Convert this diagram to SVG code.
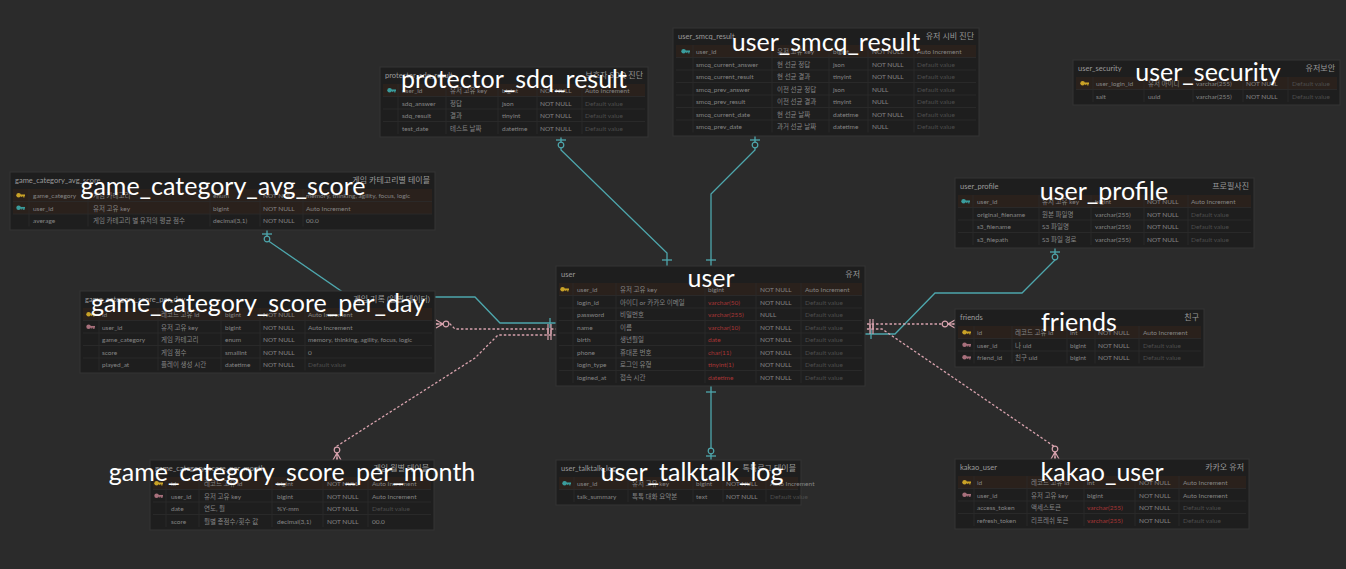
<svg xmlns="http://www.w3.org/2000/svg" xmlns:xlink="http://www.w3.org/1999/xlink" width="1346" height="569" viewBox="0 0 1346 569">
<style>
.bg{fill:#2b2b2b}
.tb{fill:#1e1e1e;stroke:#353535;stroke-width:1}
.pk{fill:#2a211c}
.ln{stroke:#2c2c2c;stroke-width:0.8}
text{font-family:Lato,"Noto Sans CJK KR",sans-serif}
.ttl{font-size:7.5px;fill:#9a9a9a}
.cm{font-size:8px;fill:#9a9a9a;text-anchor:end}
.c{font-size:6.5px;fill:#858585}
.r{fill:#a83535}
.dv{fill:#4d4d4d}
.big{font-size:25px;fill:#ffffff;text-anchor:middle}
.teal{fill:none;stroke:#4ea7ad;stroke-width:1.3}
.pink{fill:none;stroke:#d8a3ae;stroke-width:1.3;stroke-dasharray:2.5 2}
.kY{fill:#c9a227}.kT{fill:#3a9c9c}.kP{fill:#a8707c}
</style>
<defs>
<g id="key"><circle cx="2.6" cy="0" r="2.3"/><rect x="3.5" y="-0.8" width="5.5" height="1.6"/><rect x="7.2" y="0" width="1.3" height="2.2"/><rect x="5.2" y="0" width="1.2" height="1.8"/></g>
<marker id="oneT" markerUnits="userSpaceOnUse" orient="auto" overflow="visible" markerWidth="1" markerHeight="1"><path d="M-6,-5V5" stroke="#4ea7ad" stroke-width="1.3"/></marker>
<marker id="zoT" markerUnits="userSpaceOnUse" orient="auto-start-reverse" overflow="visible" markerWidth="1" markerHeight="1"><path d="M-4,-5V5" stroke="#4ea7ad" stroke-width="1.3"/><circle cx="-9" cy="0" r="2.8" fill="#2b2b2b" stroke="#4ea7ad" stroke-width="1.2"/></marker>
<marker id="twoP" markerUnits="userSpaceOnUse" orient="auto" overflow="visible" markerWidth="1" markerHeight="1"><path d="M-5,-5V5M-8,-5V5" stroke="#d8a3ae" stroke-width="1.2"/></marker>
<marker id="manyP" markerUnits="userSpaceOnUse" orient="auto-start-reverse" overflow="visible" markerWidth="1" markerHeight="1"><path d="M-7,0L0,-4M-7,0L0,4M-7,0H0" stroke="#d8a3ae" stroke-width="1.2" fill="none"/><circle cx="-10" cy="0" r="2.8" fill="#2b2b2b" stroke="#d8a3ae" stroke-width="1.2"/></marker>
</defs>
<rect class="bg" x="0" y="0" width="1346" height="569"/>

<g id="connectors">
<path class="teal" d="M561,136 L561,150 L667,253 L667,266" marker-start="url(#zoT)" marker-end="url(#oneT)"/>
<path class="teal" d="M755,136 L755,150 L711,194 L711,266" marker-start="url(#zoT)" marker-end="url(#oneT)"/>
<path class="teal" d="M267,230 L267,240 L350,297 L475,297 L500,323 L556,323" marker-start="url(#zoT)" marker-end="url(#oneT)"/>
<path class="pink" d="M436,324 L450,324 L455,329 L556,329" marker-start="url(#manyP)" marker-end="url(#twoP)"/>
<path class="pink" d="M337,460 L337,446 L475,358 L498,335 L556,335" marker-start="url(#manyP)" marker-end="url(#twoP)"/>
<path class="teal" d="M1055,248 L1055,260 L1022,293 L935,293 L895,334 L865,334" marker-start="url(#zoT)" marker-end="url(#oneT)"/>
<path class="pink" d="M955,324 L865,324" marker-start="url(#manyP)" marker-end="url(#twoP)"/>
<path class="pink" d="M1055,459 L1055,447 L882,329 L865,329" marker-start="url(#manyP)" marker-end="url(#twoP)"/>
<path class="teal" d="M711,460 L711,386" marker-start="url(#zoT)" marker-end="url(#oneT)"/>
</g>

<!-- protector_sdq_result -->
<g id="protector_sdq_result" transform="translate(380,67)">
<rect class="tb" width="268" height="70"/>
<text class="ttl" x="5" y="11">protector_sdq_result</text><text class="cm" x="263" y="11">보호자 SDQ 진단</text>
<rect class="pk" x="3" y="17" width="262" height="12.5"/>
<path class="ln" d="M3,29.5H265M3,42H265M3,54.5H265M18,17V67M66,17V67M118,17V67M157,17V67M202,17V67"/>
<use href="#key" x="7" y="23.25" class="kT"/>
<text class="c" y="26"><tspan x="22">user_id</tspan><tspan x="70">유저 고유 key</tspan><tspan x="122">bigint</tspan><tspan x="160">NOT NULL</tspan><tspan x="205">Auto Increment</tspan></text>
<text class="c" y="38.5"><tspan x="22">sdq_answer</tspan><tspan x="70">정답</tspan><tspan x="122">json</tspan><tspan x="160">NOT NULL</tspan><tspan x="205" class="dv">Default value</tspan></text>
<text class="c" y="51"><tspan x="22">sdq_result</tspan><tspan x="70">결과</tspan><tspan x="122">tinyint</tspan><tspan x="160">NOT NULL</tspan><tspan x="205" class="dv">Default value</tspan></text>
<text class="c" y="63.5"><tspan x="22">test_date</tspan><tspan x="70">테스트 날짜</tspan><tspan x="122">datetime</tspan><tspan x="160">NOT NULL</tspan><tspan x="205" class="dv">Default value</tspan></text>
<text class="big" x="134" y="21">protector_sdq_result</text>
</g>

<!-- user_smcq_result -->
<g id="user_smcq_result" transform="translate(673,28)">
<rect class="tb" width="306" height="108"/>
<text class="ttl" x="5" y="11">user_smcq_result</text><text class="cm" x="301" y="11">유저 시비 진단</text>
<rect class="pk" x="3" y="17" width="300" height="12.5"/>
<path class="ln" d="M3,29.5H303M3,42H303M3,54.5H303M3,67H303M3,79.5H303M3,92H303M20,17V104.5M99,17V104.5M156,17V104.5M195,17V104.5M241,17V104.5"/>
<use href="#key" x="8" y="23.25" class="kT"/>
<text class="c" y="26"><tspan x="23">user_id</tspan><tspan x="104">유저 고유 key</tspan><tspan x="160">bigint</tspan><tspan x="199">NOT NULL</tspan><tspan x="244">Auto Increment</tspan></text>
<text class="c" y="38.5"><tspan x="23">smcq_current_answer</tspan><tspan x="104">현 선균 정답</tspan><tspan x="160">json</tspan><tspan x="199">NOT NULL</tspan><tspan x="244" class="dv">Default value</tspan></text>
<text class="c" y="51"><tspan x="23">smcq_current_result</tspan><tspan x="104">현 선균 결과</tspan><tspan x="160">tinyint</tspan><tspan x="199">NOT NULL</tspan><tspan x="244" class="dv">Default value</tspan></text>
<text class="c" y="63.5"><tspan x="23">smcq_prev_answer</tspan><tspan x="104">이전 선균 정답</tspan><tspan x="160">json</tspan><tspan x="199">NULL</tspan><tspan x="244" class="dv">Default value</tspan></text>
<text class="c" y="76"><tspan x="23">smcq_prev_result</tspan><tspan x="104">이전 선균 결과</tspan><tspan x="160">tinyint</tspan><tspan x="199">NULL</tspan><tspan x="244" class="dv">Default value</tspan></text>
<text class="c" y="88.5"><tspan x="23">smcq_current_date</tspan><tspan x="104">현 선균 날짜</tspan><tspan x="160">datetime</tspan><tspan x="199">NOT NULL</tspan><tspan x="244" class="dv">Default value</tspan></text>
<text class="c" y="101"><tspan x="23">smcq_prev_date</tspan><tspan x="104">과거 선균 날짜</tspan><tspan x="160">datetime</tspan><tspan x="199">NULL</tspan><tspan x="244" class="dv">Default value</tspan></text>
<text class="big" x="153" y="23">user_smcq_result</text>
</g>

<!-- user_security -->
<g id="user_security" transform="translate(1073,60)">
<rect class="tb" width="267" height="45"/>
<text class="ttl" x="5" y="11">user_security</text><text class="cm" x="262" y="11">유저보안</text>
<rect class="pk" x="3" y="17" width="261" height="12.5"/>
<path class="ln" d="M3,29.5H264M20,17V42M71,17V42M120,17V42M170,17V42M215,17V42"/>
<use href="#key" x="7" y="23.25" class="kY"/>
<text class="c" y="26"><tspan x="23">user_login_id</tspan><tspan x="75">유저 아이디</tspan><tspan x="123">varchar(255)</tspan><tspan x="173">NOT NULL</tspan><tspan x="219" class="dv">Default value</tspan></text>
<text class="c" y="38.5"><tspan x="23">salt</tspan><tspan x="75">uuid</tspan><tspan x="123">varchar(255)</tspan><tspan x="173">NOT NULL</tspan><tspan x="219" class="dv">Default value</tspan></text>
<text class="big" x="135" y="21">user_security</text>
</g>

<!-- game_category_avg_score -->
<g id="game_category_avg_score" transform="translate(10,172)">
<rect class="tb" width="425" height="58"/>
<text class="ttl" x="5" y="11">game_category_avg_score</text><text class="cm" x="420" y="11">게임 카테고리별 테이블</text>
<rect class="pk" x="3" y="17" width="419" height="25"/>
<path class="ln" d="M3,29.5H422M3,42H422M19,17V54.5M78,17V54.5M200,17V54.5M250,17V54.5M293,17V54.5"/>
<use href="#key" x="6" y="23.25" class="kY"/>
<use href="#key" x="6" y="35.75" class="kT"/>
<text class="c" y="26"><tspan x="23">game_category</tspan><tspan x="83">게임 카테고리</tspan><tspan x="203">enum</tspan><tspan x="253">NOT NULL</tspan><tspan x="296">memory, thinking, agility, focus, logic</tspan></text>
<text class="c" y="38.5"><tspan x="23">user_id</tspan><tspan x="83">유저 고유 key</tspan><tspan x="203">bigint</tspan><tspan x="253">NOT NULL</tspan><tspan x="296">Auto Increment</tspan></text>
<text class="c" y="51"><tspan x="23">average</tspan><tspan x="83">게임 카테고리 별 유저의 평균 점수</tspan><tspan x="203">decimal(3,1)</tspan><tspan x="253">NOT NULL</tspan><tspan x="296">00.0</tspan></text>
<text class="big" x="213" y="23">game_category_avg_score</text>
</g>

<!-- user_profile -->
<g id="user_profile" transform="translate(955,178)">
<rect class="tb" width="299" height="70"/>
<text class="ttl" x="5" y="11">user_profile</text><text class="cm" x="294" y="11">프로필사진</text>
<rect class="pk" x="3" y="17" width="293" height="12.5"/>
<path class="ln" d="M3,29.5H296M3,42H296M3,54.5H296M18,17V67M84,17V67M136,17V67M189,17V67M233,17V67"/>
<use href="#key" x="6" y="23.25" class="kT"/>
<text class="c" y="26"><tspan x="22">user_id</tspan><tspan x="87">유저 고유 key</tspan><tspan x="140">bigint</tspan><tspan x="192">NOT NULL</tspan><tspan x="236">Auto Increment</tspan></text>
<text class="c" y="38.5"><tspan x="22">original_filename</tspan><tspan x="87">원본 파일명</tspan><tspan x="140">varchar(255)</tspan><tspan x="192">NOT NULL</tspan><tspan x="236" class="dv">Default value</tspan></text>
<text class="c" y="51"><tspan x="22">s3_filename</tspan><tspan x="87">S3 파일명</tspan><tspan x="140">varchar(255)</tspan><tspan x="192">NOT NULL</tspan><tspan x="236" class="dv">Default value</tspan></text>
<text class="c" y="63.5"><tspan x="22">s3_filepath</tspan><tspan x="87">S3 파일 경로</tspan><tspan x="140">varchar(255)</tspan><tspan x="192">NOT NULL</tspan><tspan x="236" class="dv">Default value</tspan></text>
<text class="big" x="149" y="22">user_profile</text>
</g>

<!-- game_category_score_per_day -->
<g id="game_category_score_per_day" transform="translate(80,291)">
<rect class="tb" width="355" height="82"/>
<text class="ttl" x="5" y="11">game_category_score_per_day</text><text class="cm" x="350" y="11">게임 기록 (일별 데이터)</text>
<rect class="pk" x="3" y="17" width="349" height="12.5"/>
<path class="ln" d="M3,29.5H352M3,42H352M3,54.5H352M3,67H352M19,17V79.5M78,17V79.5M141,17V79.5M180,17V79.5M225,17V79.5"/>
<use href="#key" x="6" y="23.25" class="kY"/>
<use href="#key" x="6" y="35.75" class="kP"/>
<text class="c" y="26"><tspan x="22">id</tspan><tspan x="81">레코드 고유 id</tspan><tspan x="145">bigint</tspan><tspan x="183">NOT NULL</tspan><tspan x="228">Auto Increment</tspan></text>
<text class="c" y="38.5"><tspan x="22">user_id</tspan><tspan x="81">유저 고유 key</tspan><tspan x="145">bigint</tspan><tspan x="183">NOT NULL</tspan><tspan x="228">Auto Increment</tspan></text>
<text class="c" y="51"><tspan x="22">game_category</tspan><tspan x="81">게임 카테고리</tspan><tspan x="145">enum</tspan><tspan x="183">NOT NULL</tspan><tspan x="228">memory, thinking, agility, focus, logic</tspan></text>
<text class="c" y="63.5"><tspan x="22">score</tspan><tspan x="81">게임 점수</tspan><tspan x="145">smallint</tspan><tspan x="183">NOT NULL</tspan><tspan x="228">0</tspan></text>
<text class="c" y="76"><tspan x="22">played_at</tspan><tspan x="81">플레이 생성 시간</tspan><tspan x="145">datetime</tspan><tspan x="183">NOT NULL</tspan><tspan x="228" class="dv">Default value</tspan></text>
<text class="big" x="178" y="21">game_category_score_per_day</text>
</g>

<!-- user -->
<g id="user" transform="translate(556,266)">
<rect class="tb" width="309" height="120"/>
<text class="ttl" x="5" y="11">user</text><text class="cm" x="304" y="11">유저</text>
<rect class="pk" x="3" y="17" width="303" height="12.5"/>
<path class="ln" d="M3,29.5H306M3,42H306M3,54.5H306M3,67H306M3,79.5H306M3,92H306M3,104.5H306M17,17V117M60,17V117M149,17V117M200,17V117M245,17V117"/>
<use href="#key" x="4" y="23.25" class="kY"/>
<text class="c" y="26"><tspan x="21">user_id</tspan><tspan x="64">유저 고유 key</tspan><tspan x="152">bigint</tspan><tspan x="204">NOT NULL</tspan><tspan x="249">Auto Increment</tspan></text>
<text class="c" y="38.5"><tspan x="21">login_id</tspan><tspan x="64">아이디 or 카카오 이메일</tspan><tspan x="152" class="r">varchar(50)</tspan><tspan x="204">NOT NULL</tspan><tspan x="249" class="dv">Default value</tspan></text>
<text class="c" y="51"><tspan x="21">password</tspan><tspan x="64">비밀번호</tspan><tspan x="152" class="r">varchar(255)</tspan><tspan x="204">NULL</tspan><tspan x="249" class="dv">Default value</tspan></text>
<text class="c" y="63.5"><tspan x="21">name</tspan><tspan x="64">이름</tspan><tspan x="152" class="r">varchar(10)</tspan><tspan x="204">NOT NULL</tspan><tspan x="249" class="dv">Default value</tspan></text>
<text class="c" y="76"><tspan x="21">birth</tspan><tspan x="64">생년월일</tspan><tspan x="152" class="r">date</tspan><tspan x="204">NOT NULL</tspan><tspan x="249" class="dv">Default value</tspan></text>
<text class="c" y="88.5"><tspan x="21">phone</tspan><tspan x="64">휴대폰 번호</tspan><tspan x="152" class="r">char(11)</tspan><tspan x="204">NOT NULL</tspan><tspan x="249" class="dv">Default value</tspan></text>
<text class="c" y="101"><tspan x="21">login_type</tspan><tspan x="64">로그인 유형</tspan><tspan x="152" class="r">tinyint(1)</tspan><tspan x="204">NOT NULL</tspan><tspan x="249" class="dv">Default value</tspan></text>
<text class="c" y="113.5"><tspan x="21">logined_at</tspan><tspan x="64">접속 시간</tspan><tspan x="152" class="r">datetime</tspan><tspan x="204">NOT NULL</tspan><tspan x="249" class="dv">Default value</tspan></text>
<text class="big" x="155" y="21">user</text>
</g>

<!-- friends -->
<g id="friends" transform="translate(955,309)">
<rect class="tb" width="249" height="58"/>
<text class="ttl" x="5" y="11">friends</text><text class="cm" x="244" y="11">친구</text>
<rect class="pk" x="3" y="17" width="243" height="12.5"/>
<path class="ln" d="M3,29.5H246M3,42H246M19,17V54.5M57,17V54.5M112,17V54.5M140,17V54.5M184,17V54.5"/>
<use href="#key" x="7" y="23.25" class="kY"/>
<use href="#key" x="7" y="35.75" class="kP"/>
<use href="#key" x="7" y="48.25" class="kP"/>
<text class="c" y="26"><tspan x="22">id</tspan><tspan x="60">레코드 고유 id</tspan><tspan x="115">int</tspan><tspan x="143">NOT NULL</tspan><tspan x="188">Auto Increment</tspan></text>
<text class="c" y="38.5"><tspan x="22">user_id</tspan><tspan x="60">나 uid</tspan><tspan x="115">bigint</tspan><tspan x="143">NOT NULL</tspan><tspan x="188" class="dv">Default value</tspan></text>
<text class="c" y="51"><tspan x="22">friend_id</tspan><tspan x="60">친구 uid</tspan><tspan x="115">bigint</tspan><tspan x="143">NOT NULL</tspan><tspan x="188" class="dv">Default value</tspan></text>
<text class="big" x="124" y="22">friends</text>
</g>

<!-- game_category_score_per_month -->
<g id="game_category_score_per_month" transform="translate(150,460)">
<rect class="tb" width="284" height="70"/>
<text class="ttl" x="5" y="11">game_category_score_per_month</text><text class="cm" x="279" y="11">게임 월별 테이블</text>
<rect class="pk" x="3" y="17" width="278" height="12.5"/>
<path class="ln" d="M3,29.5H281M3,42H281M3,54.5H281M16,17V67M49,17V67M122,17V67M173,17V67M218,17V67"/>
<use href="#key" x="4" y="23.25" class="kY"/>
<use href="#key" x="4" y="35.75" class="kP"/>
<text class="c" y="26"><tspan x="21">id</tspan><tspan x="54">레코드 고유 id</tspan><tspan x="127">bigint</tspan><tspan x="177">NOT NULL</tspan><tspan x="222">Auto Increment</tspan></text>
<text class="c" y="38.5"><tspan x="21">user_id</tspan><tspan x="54">유저 고유 key</tspan><tspan x="127">bigint</tspan><tspan x="177">NOT NULL</tspan><tspan x="222">Auto Increment</tspan></text>
<text class="c" y="51"><tspan x="21">date</tspan><tspan x="54">연도, 월</tspan><tspan x="127">%Y-mm</tspan><tspan x="177">NOT NULL</tspan><tspan x="222" class="dv">Default value</tspan></text>
<text class="c" y="63.5"><tspan x="21">score</tspan><tspan x="54">월별 총점수/횟수 값</tspan><tspan x="127">decimal(3,1)</tspan><tspan x="177">NOT NULL</tspan><tspan x="222">00.0</tspan></text>
<text class="big" x="142" y="21">game_category_score_per_month</text>
</g>

<!-- user_talktalk_log -->
<g id="user_talktalk_log" transform="translate(556,460)">
<rect class="tb" width="245" height="45"/>
<text class="ttl" x="5" y="11">user_talktalk_log</text><text class="cm" x="240" y="11">톡톡로그 테이블</text>
<rect class="pk" x="3" y="17" width="239" height="12.5"/>
<path class="ln" d="M3,29.5H242M18,17V42M72,17V42M137,17V42M167,17V42M210,17V42"/>
<use href="#key" x="6" y="23.25" class="kT"/>
<text class="c" y="26"><tspan x="21">user_id</tspan><tspan x="76">유저 고유 key</tspan><tspan x="140">bigint</tspan><tspan x="170">NOT NULL</tspan><tspan x="214">Auto Increment</tspan></text>
<text class="c" y="38.5"><tspan x="21">talk_summary</tspan><tspan x="76">톡톡 대화 요약본</tspan><tspan x="140">text</tspan><tspan x="170">NOT NULL</tspan><tspan x="214" class="dv">Default value</tspan></text>
<text class="big" x="136" y="21">user_talktalk_log</text>
</g>

<!-- kakao_user -->
<g id="kakao_user" transform="translate(955,459)">
<rect class="tb" width="294" height="70"/>
<text class="ttl" x="5" y="11">kakao_user</text><text class="cm" x="289" y="11">카카오 유저</text>
<rect class="pk" x="3" y="17" width="288" height="12.5"/>
<path class="ln" d="M3,29.5H291M3,42H291M3,54.5H291M19,17V67M72,17V67M129,17V67M180,17V67M224,17V67"/>
<use href="#key" x="7" y="23.25" class="kY"/>
<use href="#key" x="7" y="35.75" class="kP"/>
<text class="c" y="26"><tspan x="22">id</tspan><tspan x="76">레코드 고유 id</tspan><tspan x="132">int</tspan><tspan x="184">NOT NULL</tspan><tspan x="228">Auto Increment</tspan></text>
<text class="c" y="38.5"><tspan x="22">user_id</tspan><tspan x="76">유저 고유 key</tspan><tspan x="132">bigint</tspan><tspan x="184">NOT NULL</tspan><tspan x="228">Auto Increment</tspan></text>
<text class="c" y="51"><tspan x="22">access_token</tspan><tspan x="76">액세스토큰</tspan><tspan x="132" class="r">varchar(255)</tspan><tspan x="184">NOT NULL</tspan><tspan x="228" class="dv">Default value</tspan></text>
<text class="c" y="63.5"><tspan x="22">refresh_token</tspan><tspan x="76">리프레쉬 토큰</tspan><tspan x="132" class="r">varchar(255)</tspan><tspan x="184">NOT NULL</tspan><tspan x="228" class="dv">Default value</tspan></text>
<text class="big" x="147" y="22">kakao_user</text>
</g>
</svg>
